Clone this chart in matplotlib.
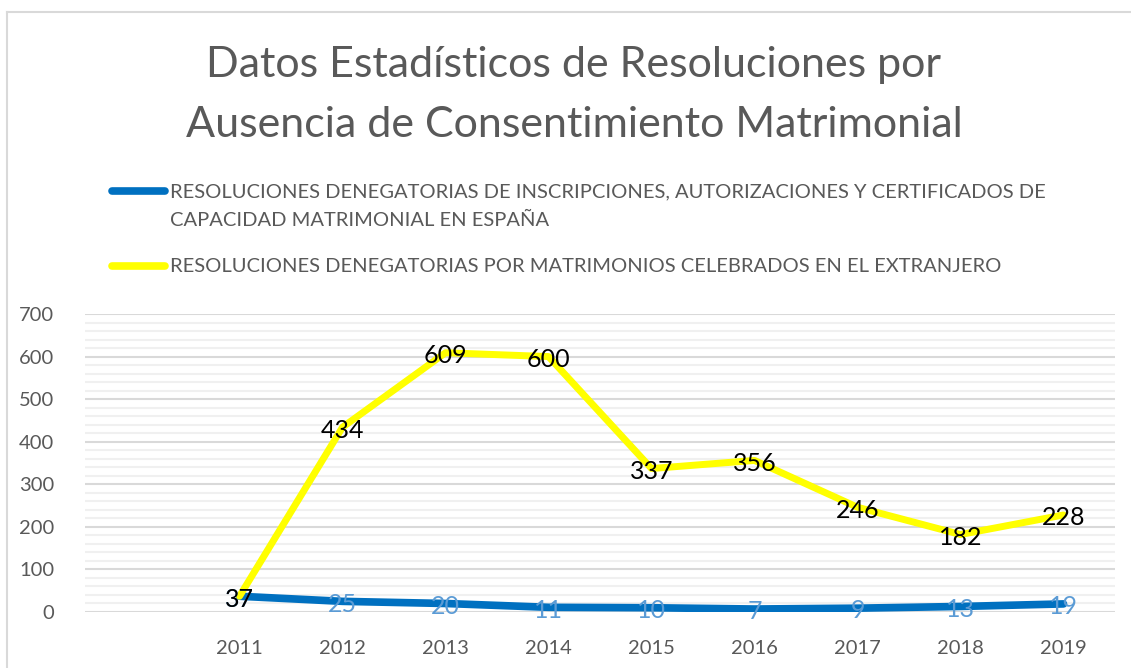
import matplotlib
matplotlib.use("Agg")
import matplotlib.pyplot as plt
from matplotlib.lines import Line2D
from matplotlib.ticker import MultipleLocator

plt.rcParams['font.family'] = ['Lato', 'DejaVu Sans']

# data
years = ['', '2011', '2012', '2013', '2014', '2015', '2016', '2017', '2018', '2019']
espana = [None, 37, 25, 20, 11, 10, 7, 9, 13, 19]
extranjero = [None, 37, 434, 609, 600, 337, 356, 246, 182, 228]
label_espana = ('RESOLUCIONES DENEGATORIAS DE INSCRIPCIONES, AUTORIZACIONES Y CERTIFICADOS DE\n'
                'CAPACIDAD MATRIMONIAL EN ESPAÑA')
label_extranjero = 'RESOLUCIONES DENEGATORIAS POR MATRIMONIOS CELEBRADOS EN EL EXTRANJERO'
title = 'Datos Estadísticos de Resoluciones por\nAusencia de Consentimiento Matrimonial'

BLUE = '#0070C0'
YELLOW = '#FFFF00'
GRAY = '#595959'

W, H = 1131, 668
fig = plt.figure(figsize=(W / 100, H / 100), dpi=100)
ax = fig.add_axes([85 / W, 1 - 612 / H, 1030 / W, 298 / H])

x = list(range(len(years)))
xb = [i for i, v in zip(x, espana) if v is not None]
yb = [v for v in espana if v is not None]
xy = [i for i, v in zip(x, extranjero) if v is not None]
yy = [v for v in extranjero if v is not None]

ax.plot(xb, yb, color=BLUE, lw=5.5, solid_capstyle='round', solid_joinstyle='round', zorder=3)
ax.plot(xy, yy, color=YELLOW, lw=5, solid_capstyle='round', solid_joinstyle='round', zorder=4)

for i, v in zip(xb, yb):
    ax.annotate(str(v), (i, v), xytext=(0, -2), textcoords='offset points',
                ha='center', va='center', fontsize=18, color='#5B9BD5', zorder=5)
for i, v in zip(xy, yy):
    ax.annotate(str(v), (i, v), xytext=(0, -2), textcoords='offset points',
                ha='center', va='center', fontsize=18, color='black', zorder=6)

ax.set_xlim(-0.5, len(years) - 0.5)
ax.set_ylim(0, 700)
ax.set_xticks(x)
ax.set_xticklabels(years)
ax.yaxis.set_major_locator(MultipleLocator(100))
ax.yaxis.set_minor_locator(MultipleLocator(20))
ax.grid(axis='y', which='major', color='#D9D9D9', lw=1.5, zorder=0)
ax.grid(axis='y', which='minor', color='#F0F0F0', lw=1.5, zorder=0)
ax.tick_params(axis='both', which='both', length=0, labelsize=14.5, labelcolor=GRAY)
ax.tick_params(axis='y', pad=22)
ax.tick_params(axis='x', pad=20)
for s in ax.spines.values():
    s.set_visible(False)

# title
fig.text(574 / W, 1 - 95 / H, title, ha='center', va='center', fontsize=31,
         color=GRAY, linespacing=1.72)

# legend drawn by hand
fig.add_artist(Line2D([112 / W, 165 / W], [1 - 191 / H] * 2, color=BLUE, lw=5.5,
                      solid_capstyle='round'))
fig.text(170 / W, 1 - 206 / H, label_espana, ha='left', va='center', fontsize=14.5,
         color=GRAY, linespacing=1.78)
fig.add_artist(Line2D([112 / W, 165 / W], [1 - 266 / H] * 2, color=YELLOW, lw=5.5,
                      solid_capstyle='round'))
fig.text(170 / W, 1 - 266 / H, label_extranjero, ha='left', va='center', fontsize=14.5,
         color=GRAY)

# chart border
fig.add_artist(Line2D([7 / W, 7 / W], [0, 1 - 12 / H], color='#D9D9D9', lw=1.5))
fig.add_artist(Line2D([7 / W, 1], [1 - 12 / H] * 2, color='#D9D9D9', lw=1.5))

fig.savefig('out.png', dpi=100)
